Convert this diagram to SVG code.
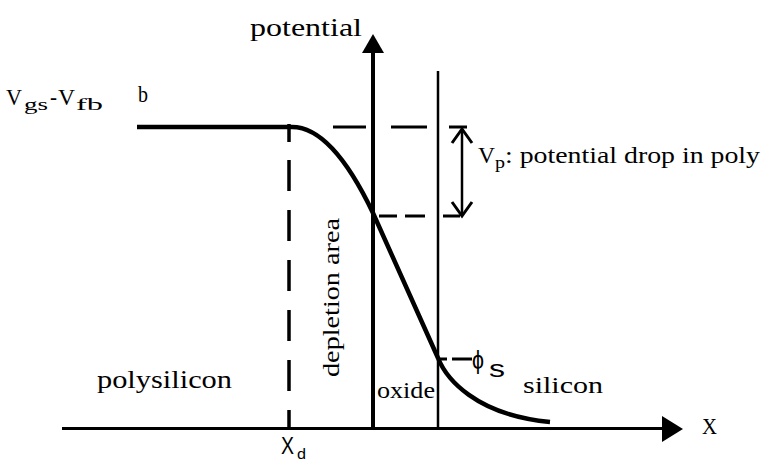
<svg xmlns="http://www.w3.org/2000/svg" width="764" height="461" viewBox="0 0 764 461">
<style>
.s{font-family:"Liberation Serif","Times New Roman",serif;fill:#000}
.a{font-family:"Liberation Sans",Arial,sans-serif;fill:#000}
.ln{stroke:#000;fill:none}
</style>
<rect width="764" height="461" fill="#fff"/>
<g id="connectors">
  <line class="ln" x1="62" y1="428.5" x2="666" y2="428.5" stroke-width="3"/>
  <polygon points="662,416 683,429 662,442" fill="#000"/>
  <line class="ln" x1="373" y1="50" x2="373" y2="430" stroke-width="4"/>
  <polygon points="362,53 373,34 384,53" fill="#000"/>
  <line class="ln" x1="438" y1="71" x2="438" y2="430" stroke-width="2.5"/>
  <path class="ln" d="M289,124V142 M289,160V428" stroke-width="3.5" stroke-dasharray="31 19"/>
  <path class="ln" d="M333,127H366 M391,127H427 M449,127H467 M379,216H397 M405,216H425 M443,216H460" stroke-width="3"/>
  <line class="ln" x1="462" y1="130" x2="462" y2="215" stroke-width="2.5"/>
  <polyline class="ln" points="452,143 462,129 472,143" stroke-width="3"/>
  <polyline class="ln" points="452,202 462,216 472,202" stroke-width="3"/>
  <path class="ln" d="M439,359H447 M452,359H472" stroke-width="3"/>
  <path class="ln" d="M137,127H292 Q332,127 373,213 L438,358 C446,378 475,415 550,422" stroke-width="4.5"/>
</g>
<g id="potential-label"><text class="s" x="250" y="36" font-size="25" textLength="112" lengthAdjust="spacingAndGlyphs">potential</text></g>
<g id="vgs-label">
  <text class="s" x="6" y="105" font-size="24" textLength="16" lengthAdjust="spacingAndGlyphs">V</text>
  <text class="s" x="24" y="110" font-size="17" textLength="24" lengthAdjust="spacingAndGlyphs">gs</text>
  <text class="s" x="50" y="105" font-size="24" textLength="7" lengthAdjust="spacingAndGlyphs">-</text>
  <text class="s" x="58" y="105" font-size="24" textLength="17" lengthAdjust="spacingAndGlyphs">V</text>
  <text class="s" x="76" y="110" font-size="17" textLength="27" lengthAdjust="spacingAndGlyphs">fb</text>
</g>
<g id="b-label"><text class="s" x="138" y="102" font-size="23" textLength="10" lengthAdjust="spacingAndGlyphs">b</text></g>
<g id="vp-label">
  <text class="s" x="478" y="163" font-size="24" textLength="17" lengthAdjust="spacingAndGlyphs">V</text>
  <text class="s" x="495" y="168" font-size="17" textLength="10" lengthAdjust="spacingAndGlyphs">p</text>
  <text class="s" x="505" y="163" font-size="24" textLength="255" lengthAdjust="spacingAndGlyphs">: potential drop in poly</text>
</g>
<g id="depletion-label"><text class="s" transform="translate(339,377) rotate(-90)" x="0" y="0" font-size="24" textLength="159" lengthAdjust="spacingAndGlyphs">depletion area</text></g>
<g id="polysilicon-label"><text class="s" x="97" y="388" font-size="26" textLength="135" lengthAdjust="spacingAndGlyphs">polysilicon</text></g>
<g id="oxide-label"><text class="s" x="377" y="398" font-size="24" textLength="58" lengthAdjust="spacingAndGlyphs">oxide</text></g>
<g id="silicon-label"><text class="s" x="523" y="393" font-size="24" textLength="80" lengthAdjust="spacingAndGlyphs">silicon</text></g>
<g id="phis-label">
  <text class="a" x="472" y="369" font-size="26" textLength="12" lengthAdjust="spacingAndGlyphs">ϕ</text>
  <text class="a" x="489" y="377" font-size="24" textLength="16" lengthAdjust="spacingAndGlyphs">s</text>
</g>
<g id="x-label"><text class="s" x="702" y="434" font-size="24" textLength="15" lengthAdjust="spacingAndGlyphs">X</text></g>
<g id="xd-label">
  <text class="a" x="281" y="454" font-size="23" textLength="13" lengthAdjust="spacingAndGlyphs">X</text>
  <text class="a" x="297" y="459" font-size="15" textLength="9" lengthAdjust="spacingAndGlyphs">d</text>
</g>
</svg>
